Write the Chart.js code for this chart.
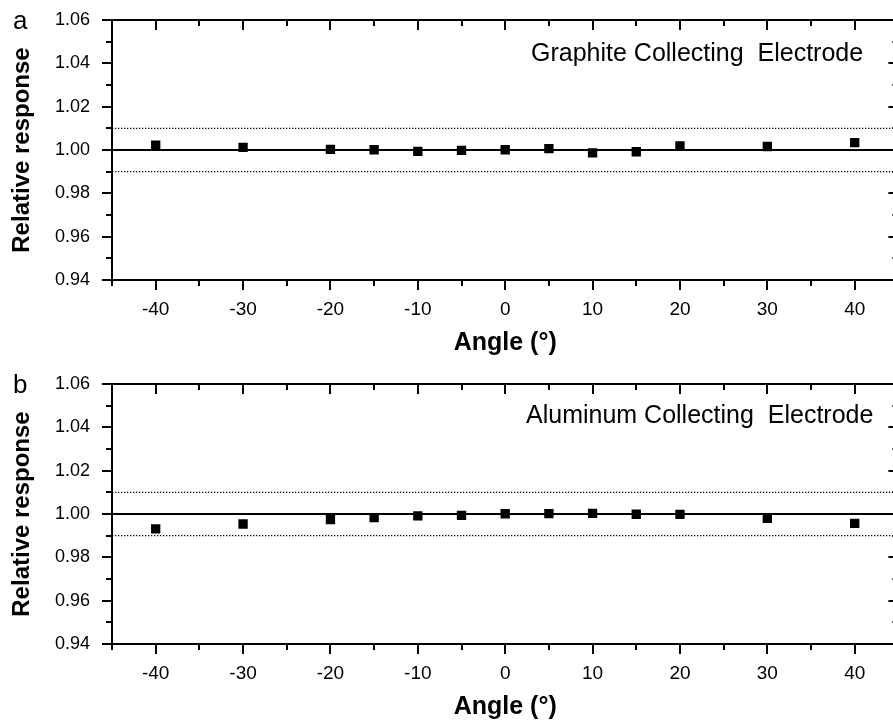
<!DOCTYPE html>
<html><head><meta charset="utf-8">
<script src="https://cdn.jsdelivr.net/npm/chart.js@4.4.0/dist/chart.umd.min.js"></script>
<style>
html,body{margin:0;padding:0;background:#fff;overflow:hidden;width:893px;height:722px;position:relative;}
.panel{position:absolute;left:0;width:905px;height:361px;}
#pa{top:0}
#pb{top:364px}
</style></head><body>
<div class="panel" id="pa"><canvas id="ca" width="905" height="361"></canvas></div>
<div class="panel" id="pb"><canvas id="cb" width="905" height="361"></canvas></div>
<script>
// ---- data ----
const angles = [-40, -30, -20, -15, -10, -5, 0, 5, 10, 15, 20, 30, 40];
const graphiteResponse = [1.0022, 1.0012, 1.0003, 1.0001, 0.9994, 0.9998, 1.0001, 1.0006, 0.9987, 0.9992, 1.0019, 1.0016, 1.0034];
const aluminumResponse = [0.9931, 0.9954, 0.9974, 0.9983, 0.9991, 0.9994, 1.0001, 1.0002, 1.0003, 0.9999, 0.9998, 0.9980, 0.9957];
const referenceLevel = [1.00];
const toleranceLevels = [0.99, 1.01];
const xRange = [-45, 45];
const yRange = [0.94, 1.06];
const xMajorTicks = [-40, -30, -20, -10, 0, 10, 20, 30, 40];
const xMinorTicks = [-45, -35, -25, -15, -5, 5, 15, 25, 35, 45];
const yMajorTicks = [0.94, 0.96, 0.98, 1.00, 1.02, 1.04, 1.06];
const yMinorTicks = [0.95, 0.97, 0.99, 1.01, 1.03, 1.05];
const xLabel = 'Angle (°)';
const yLabel = 'Relative response';
const panelLetters = ['a', 'b'];
const panelTitles = ['Graphite Collecting  Electrode', 'Aluminum Collecting  Electrode'];

const FONT = "'Liberation Sans', Arial, Helvetica, sans-serif";
Chart.defaults.font.family = FONT;
Chart.defaults.color = '#000';

const framePlugin = {
  id: 'frame',
  afterDatasetsDraw(chart, args, opts) {
    const {ctx, chartArea: a, scales: {x, y}} = chart;
    ctx.save();
    ctx.strokeStyle = '#000';
    ctx.lineWidth = 2;
    ctx.strokeRect(a.left, a.top, a.right - a.left, a.bottom - a.top);
    ctx.beginPath();
    const xt = (vals, len) => vals.forEach(v => {
      const p = Math.round(x.getPixelForValue(v));
      ctx.moveTo(p, a.bottom); ctx.lineTo(p, a.bottom + len);
      ctx.moveTo(p, a.top); ctx.lineTo(p, a.top + len);
    });
    const yt = (vals, len) => vals.forEach(v => {
      const p = Math.round(y.getPixelForValue(v));
      ctx.moveTo(a.left, p); ctx.lineTo(a.left - len, p);
      ctx.moveTo(a.right, p); ctx.lineTo(a.right - len, p);
    });
    xt(xMajorTicks, 10); xt(xMinorTicks, 6);
    yt(yMajorTicks, 10); yt(yMinorTicks, 6);
    ctx.stroke();
    ctx.fillStyle = '#000';
    ctx.textBaseline = 'alphabetic';
    ctx.textAlign = 'left';
    ctx.font = '26px ' + FONT;
    ctx.fillText(opts.letter, 13, 28.5);
    ctx.font = '25px ' + FONT;
    ctx.fillText(opts.title, opts.tx, opts.ty);
    ctx.restore();
  }
};

function makeChart(id, idx, values, tx, ty) {
  const pts = angles.map((a, i) => ({x: a, y: values[i]}));
  const hline = v => xRange.map(xv => ({x: xv, y: v}));
  return new Chart(document.getElementById(id), {
    type: 'scatter',
    data: {
      datasets: [
        {data: pts, pointStyle: 'rect', pointRadius: 6.6, pointHoverRadius: 6.6,
         backgroundColor: '#000', borderColor: '#000', borderWidth: 0, showLine: false, order: 0},
        {data: hline(referenceLevel[0]), showLine: true, borderColor: '#000', borderWidth: 2,
         pointRadius: 0, order: 1},
        {data: hline(toleranceLevels[0]), showLine: true, borderColor: '#000', borderWidth: 1.3,
         borderDash: [1.3, 1.7], pointRadius: 0, order: 1},
        {data: hline(toleranceLevels[1]), showLine: true, borderColor: '#000', borderWidth: 1.3,
         borderDash: [1.3, 1.7], pointRadius: 0, order: 1}
      ]
    },
    options: {
      responsive: false, animation: false, devicePixelRatio: 1,
      layout: {padding: {top: 20, right: 4, left: 0, bottom: 0}},
      plugins: {legend: {display: false}, tooltip: {enabled: false},
        frame: {letter: panelLetters[idx], title: panelTitles[idx], tx: tx, ty: ty}},
      scales: {
        x: {
          type: 'linear', position: 'bottom', min: xRange[0], max: xRange[1],
          afterBuildTicks: s => { s.ticks = xMajorTicks.map(v => ({value: v})); },
          afterFit: s => { s.height = 81; s.paddingLeft = 0; s.paddingRight = 0; },
          grid: {display: false, drawTicks: false, tickLength: 0},
          border: {display: false},
          ticks: {padding: 18, font: {size: 19}, color: '#000', maxRotation: 0, autoSkip: false,
                  callback: v => String(v)},
          title: {display: true, text: xLabel, color: '#000', font: {size: 25, weight: 'bold'},
                  padding: {top: 0, bottom: 3}}
        },
        y: {
          type: 'linear', position: 'left', min: yRange[0], max: yRange[1],
          afterBuildTicks: s => { s.ticks = yMajorTicks.map(v => ({value: v})); },
          afterFit: s => { s.width = 112; s.paddingTop = 0; s.paddingBottom = 0; },
          grid: {display: false, drawTicks: false, tickLength: 0},
          border: {display: false},
          ticks: {padding: 22, font: {size: 18}, color: '#000', callback: v => v.toFixed(2)},
          title: {display: true, text: yLabel, color: '#000', font: {size: 24, weight: 'bold'},
                  padding: {top: 8, bottom: 0}}
        }
      }
    },
    plugins: [framePlugin]
  });
}

makeChart('ca', 0, graphiteResponse, 531, 61);
makeChart('cb', 1, aluminumResponse, 526, 58.5);
</script>
</body></html>
